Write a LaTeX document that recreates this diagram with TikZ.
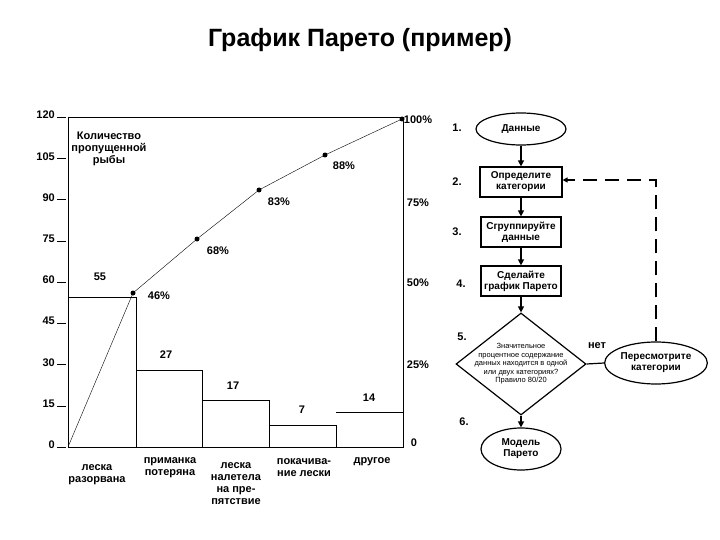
\documentclass[tikz,border=0pt]{standalone}
\usepackage{fontspec}
\setmainfont{Liberation Sans}
\usetikzlibrary{shapes.geometric,arrows.meta}
\begin{document}
\begin{tikzpicture}[x=1pt,y=-1pt,
  lbl/.style={font=\bfseries\fontsize{11}{12}\selectfont,align=center,inner sep=1pt},
  fc/.style={draw,line width=1.2pt,font=\bfseries\fontsize{10}{11}\selectfont,align=center,inner sep=1pt},
  arr/.style={line width=1.3pt,-{Triangle[length=6pt,width=6pt]}},
  dot/.style={circle,fill,inner sep=0pt,minimum size=5pt}]
\useasboundingbox (0,0) rectangle (720,540);
\node (title) at (360,40) {\fontsize{25}{28}\selectfont\bfseries График Парето (пример)};
% axes box
\draw[line width=0.8pt] (68,117) rectangle (403,447);
\foreach \v in {0,15,...,120}{
  \draw (57,{447-2.75*\v}) -- (66,{447-2.75*\v});
  \node[lbl,anchor=east] (t\v) at (56,{447-2.75*\v-2}) {\v};
}
\node[lbl] (p100) at (418,120) {100\%};
\node[lbl] (p75) at (418,203) {75\%};
\node[lbl] (p50) at (418,283) {50\%};
\node[lbl] (p25) at (418,365) {25\%};
\node[lbl] (p0) at (414,443) {0};
% bars
\draw[line width=0.8pt] (68,447) -- (68,297) -- (136,297) -- (136,447);
\draw[line width=0.8pt] (136,370) -- (202,370) -- (202,447);
\draw[line width=0.8pt] (202,400) -- (269,400) -- (269,447);
\draw[line width=0.8pt] (269,425) -- (336,425) -- (336,447);
\draw[line width=0.8pt] (336,412) -- (403,412);
\node[lbl] (b1) at (100,277) {55};
\node[lbl] (b2) at (166,355) {27};
\node[lbl] (b3) at (233,386) {17};
\node[lbl] (b4) at (302,410) {7};
\node[lbl] (b5) at (369,398) {14};
% cumulative
\coordinate (c0) at (68,447);
\node[dot] (d1) at (133,293) {};
\node[dot] (d2) at (197,239) {};
\node[dot] (d3) at (259,190) {};
\node[dot] (d4) at (325,155) {};
\node[dot] (d5) at (402,119) {};
\draw (c0) -- (d1.center) -- (d2.center) -- (d3.center) -- (d4.center) -- (d5.center);
\node[lbl] (l1) at (159,296) {46\%};
\node[lbl] (l2) at (218,251) {68\%};
\node[lbl] (l3) at (279,202) {83\%};
\node[lbl] (l4) at (344,166) {88\%};
\node[lbl,align=center] (ytitle) at (109,149) {Количество\\пропущенной\\рыбы};
% categories
\node[lbl] (k1) at (97,475) {леска\\разорвана};
\node[lbl] (k2) at (170,468) {приманка\\потеряна};
\node[lbl] (k3) at (236,484) {леска\\налетела\\на пре-\\пятствие};
\node[lbl] (k4) at (304,468) {покачива-\\ние лески};
\node[lbl] (k5) at (372,462) {другое};
% flowchart
\node[fc,ellipse,minimum width=90pt,minimum height=32pt] (f1) at (521,129) {Данные};
\node[fc,rectangle,minimum width=82pt,minimum height=30pt] (f2) at (521,182) {Определите\\категории};
\node[fc,rectangle,minimum width=80pt,minimum height=30pt] (f3) at (521,232) {Сгруппируйте\\данные};
\node[fc,rectangle,minimum width=80pt,minimum height=30pt] (f4) at (521,281) {Сделайте\\график Парето};
\node[fc,diamond,minimum width=130pt,minimum height=102pt,inner sep=0pt] (f5) at (521,364) {};
\node[font=\fontsize{7.5}{8.5}\selectfont,align=center,inner sep=0pt] (f5t) at (f5.center) {Значительное\\процентное содержание\\данных находится в одной\\или двух категориях?\\Правило 80/20};
\node[fc,ellipse,minimum width=92pt,minimum height=42pt] (f7) at (656,363) {Пересмотрите\\категории};
\node[fc,ellipse,minimum width=80pt,minimum height=42pt] (f6) at (521,449) {Модель\\Парето};
\draw[arr] (f1) -- (f2);
\draw[arr] (f2) -- (f3);
\draw[arr] (f3) -- (f4);
\draw[arr] (f4) -- (f5);
\draw[arr] (f5) -- (f6);
\draw[line width=1.2pt] (f5.east) -- (f7.west);
\coordinate (corner) at (656,180);
\draw[line width=1.3pt,dash pattern=on 14pt off 8pt,-{Triangle[length=5pt,width=5pt]}] (f7.north) -- (corner) -- (f2.east |- corner);
\node[lbl] (n1) at (457,128) {1.};
\node[lbl] (n2) at (457,182) {2.};
\node[lbl] (n3) at (457,232) {3.};
\node[lbl] (n4) at (461,284) {4.};
\node[lbl] (n5) at (462,337) {5.};
\node[lbl] (n6) at (464,422) {6.};
\node[lbl] (no) at (597,346) {нет};
\end{tikzpicture}
\end{document}
